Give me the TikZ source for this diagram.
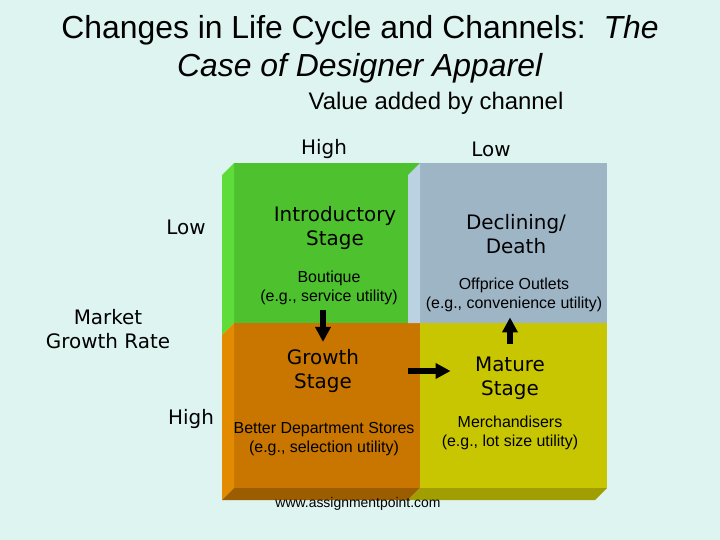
\documentclass[tikz,border=0pt]{standalone}
\usepackage{fontspec}
\setmainfont{Liberation Sans}
\newfontfamily\handfont{DejaVu Sans}
\usetikzlibrary{arrows.meta}

\definecolor{bgcyan}{RGB}{222,244,241}
\definecolor{introfront}{RGB}{78,194,46}
\definecolor{introside}{RGB}{94,220,58}
\definecolor{declfront}{RGB}{158,181,198}
\definecolor{declside}{RGB}{186,210,226}
\definecolor{growfront}{RGB}{200,118,0}
\definecolor{growside}{RGB}{226,138,0}
\definecolor{growbase}{RGB}{156,92,0}
\definecolor{matfront}{RGB}{200,198,0}
\definecolor{matbase}{RGB}{160,158,0}

\begin{document}
\begin{tikzpicture}[x=1bp,y=-1bp,
  hand/.style={font=\handfont\fontsize{20}{24}\selectfont,align=center},
  chan/.style={font=\fontsize{16}{19}\selectfont,align=center},
  blk/.style={-{Triangle[width=15bp,length=15bp]},line width=6bp}
]
  \fill[bgcyan] (0,0) rectangle (720,540);
  \useasboundingbox (0,0) rectangle (720,540);

  % the four cells, front faces
  \fill[introfront] (234,163) rectangle (420,323);
  \fill[declfront]  (420,163) rectangle (607,323);
  \fill[growfront]  (234,323) rectangle (420,488);
  \fill[matfront]   (420,323) rectangle (607,488);
  % bevels
  \fill[introside] (222,175)--(234,163)--(234,323)--(222,335)--cycle;
  \fill[growside]  (222,335)--(234,323)--(234,488)--(222,500)--cycle;
  \fill[declside]  (408,175)--(420,163)--(420,323)--(408,323)--cycle;
  \fill[growbase]  (222,500)--(234,488)--(420,488)--(408,500)--cycle;
  \fill[matbase]   (408,500)--(420,488)--(607,488)--(595,500)--cycle;

  \node[font=\fontsize{32}{38}\selectfont,align=center](title) at (360,49)
    {Changes in Life Cycle and Channels:\ \ \textit{The}\\\textit{Case of Designer Apparel}};
  \node[font=\fontsize{24}{28}\selectfont](vabc) at (436,103.5) {Value added by channel};
  \node[hand](colhigh) at (324,149) {High};
  \node[hand](collow)  at (491,149) {Low};
  \node[hand](rowlow)  at (186,227) {Low};
  \node[hand](mgr)     at (108,329) {Market\\Growth Rate};
  \node[hand](rowhigh) at (191,419) {High};

  % stages and channels
  \node[hand](intro)    at (335,228) {Introductory\\Stage};
  \node[hand](decl)     at (516,234) {Declining/\\Death};
  \node[chan](boutique) at (329,288) {Boutique\\(e.g., service utility)};
  \node[chan](offprice) at (514,295) {Offprice Outlets\\(e.g., convenience utility)};
  \node[hand](growth)   at (323,371) {Growth\\Stage};
  \node[hand](mature)   at (510,378) {Mature\\Stage};
  \node[chan](deptst)   at (324,439) {Better Department Stores\\(e.g., selection utility)};
  \node[chan](merch)    at (510,433) {Merchandisers\\(e.g., lot size utility)};
  \node[font=\fontsize{14}{16}\selectfont](site) at (358,504) {www.assignmentpoint.com};

  \draw[blk,shorten <=2bp,shorten >=4bp] (boutique.south -| growth.north) -- (growth.north);
  \draw[blk,shorten <=45bp,shorten >=21bp] (growth.east) -- (growth.east -| mature.west);
  \draw[blk,shorten <=9bp,shorten >=2bp] (mature.north) -- (offprice.south -| mature.north);
\end{tikzpicture}
\end{document}
